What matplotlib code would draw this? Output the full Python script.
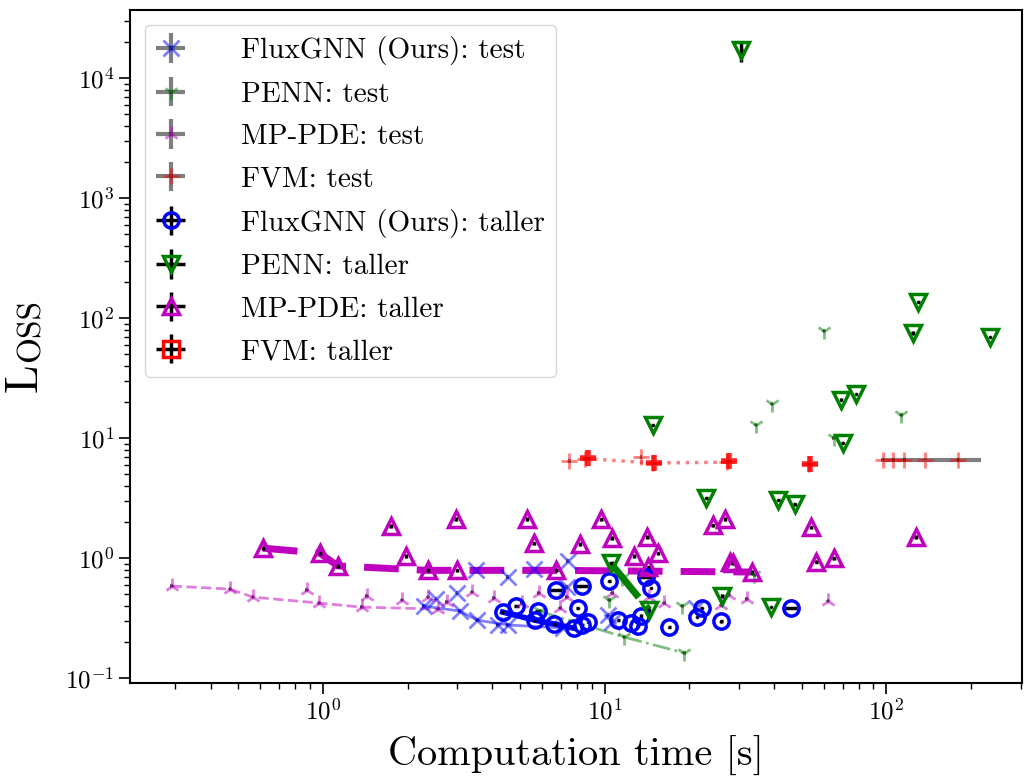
import numpy as np
import matplotlib
matplotlib.use('Agg')
import matplotlib.pyplot as plt

plt.rcParams['font.family'] = 'cmr10'
plt.rcParams['mathtext.fontset'] = 'cm'
plt.rcParams['axes.unicode_minus'] = False
plt.rcParams['axes.formatter.use_mathtext'] = True

# ---------------- data ----------------
# FluxGNN (Ours): test
flux_test_x = [2.28, 2.52, 2.99, 3.06, 3.49, 3.54, 4.17, 4.53, 4.53, 5.61, 7.10, 7.39, 7.33, 10.3, 10.6, 21.1]
flux_test_y = [0.398, 0.455, 0.51, 0.362, 0.794, 0.304, 0.277, 0.694, 0.277, 0.81, 0.262, 0.944, 0.573, 0.335, 0.293, 0.383]
flux_test_xerr = [0.01] * 16
flux_test_yerr = [0.01] * 16
flux_test_line_x = [2.28, 3.06, 3.54, 4.53, 7.10]
flux_test_line_y = [0.398, 0.362, 0.304, 0.277, 0.262]

# PENN: test
penn_test_x = [5.9, 10.4, 11.5, 11.7, 18.9, 19.2, 34.0, 34.5, 39.3, 60.0, 65.0, 113.0]
penn_test_y = [0.36, 0.447, 0.68, 0.22, 0.398, 0.162, 0.72, 12.8, 19.2, 78.0, 10.0, 15.5]
penn_test_xerr = [0.01] * 12
penn_test_yerr = [0.02] * 12
penn_test_line_x = [5.9, 11.7, 19.2]
penn_test_line_y = [0.36, 0.22, 0.162]

# MP-PDE: test
mp_test_x = [0.291, 0.468, 0.565, 0.877, 0.968, 1.375, 1.43, 1.91, 2.36, 2.56, 2.75, 3.38,
             4.04, 5.08, 5.83, 6.97, 7.33, 10.67, 14.4, 16.3, 26.0, 27.7, 31.9, 62.2]
mp_test_y = [0.584, 0.552, 0.473, 0.541, 0.422, 0.39, 0.482, 0.447, 0.473, 0.376, 0.43, 0.52,
             0.464, 0.422, 0.51, 0.383, 0.473, 0.51, 0.473, 0.422, 0.406, 0.49, 0.455, 0.438]
mp_test_xerr = [0.01] * 24
mp_test_yerr = [0.02] * 24
mp_test_line_x = [0.291, 0.468, 0.565, 0.968, 1.375, 2.56]
mp_test_line_y = [0.584, 0.552, 0.473, 0.422, 0.39, 0.376]

# FVM: test  (relative lower / upper x errors)
fvm_test_x = [7.5, 8.5, 13.5, 14.8, 27.3, 53.0, 97.0, 106.0, 116.0, 137.0, 180.0]
fvm_test_y = [6.43, 6.75, 6.9, 6.2, 6.3, 6.1, 6.6, 6.6, 6.6, 6.6, 6.6]
fvm_test_xerr_lo = [0.01, 0.01, 0.01, 0.01, 0.01, 0.01, 0.01, 0.01, 0.01, 0.29, 0.01]
fvm_test_xerr_hi = [0.01, 0.01, 0.01, 0.01, 0.01, 0.01, 0.01, 0.01, 0.01, 0.58, 0.01]
fvm_test_yerr = [0.01] * 11
fvm_test_line_x = [8.5, 14.8, 27.3]
fvm_test_line_y = [6.75, 6.2, 6.3]

# FluxGNN (Ours): taller
flux_tall_x = [4.35, 4.87, 5.79, 5.65, 6.64, 6.71, 8.3, 8.02, 7.76, 8.30, 8.77, 10.4,
               11.2, 12.4, 13.1, 13.5, 14.0, 14.6, 17.0, 21.3, 22.1, 26.0, 46.0]
flux_tall_y = [0.355, 0.398, 0.362, 0.304, 0.282, 0.541, 0.584, 0.383, 0.261, 0.277, 0.293, 0.643,
               0.304, 0.287, 0.271, 0.329, 0.694, 0.562, 0.266, 0.322, 0.383, 0.298, 0.383]
flux_tall_xerr = [0.01, 0.02, 0.02, 0.01, 0.01, 0.05, 0.05, 0.01, 0.01, 0.01, 0.01, 0.01,
                  0.01, 0.01, 0.01, 0.01, 0.05, 0.01, 0.01, 0.01, 0.01, 0.01, 0.05]
flux_tall_yerr = [0.01, 0.02, 0.02, 0.01, 0.01, 0.01, 0.01, 0.02, 0.01, 0.01, 0.01, 0.02,
                  0.01, 0.01, 0.01, 0.03, 0.01, 0.02, 0.01, 0.02, 0.02, 0.03, 0.01]
flux_tall_line_x = [4.35, 5.65, 6.64, 7.76]
flux_tall_line_y = [0.355, 0.304, 0.282, 0.261]

# PENN: taller
penn_tall_x = [10.5, 14.4, 14.8, 23.0, 26.2, 30.6, 39.0, 41.4, 47.3, 69.0, 70.0, 78.0, 124.0, 130.0, 233.0]
penn_tall_y = [0.91, 0.368, 12.8, 3.16, 0.482, 17100.0, 0.39, 3.05, 2.82, 20.8, 9.1, 23.3, 75.0, 136.0, 69.5]
penn_tall_xerr = [0.01] * 15
penn_tall_yerr = [0.02, 0.03, 0.02, 0.02, 0.04, 0.20, 0.02, 0.02, 0.03, 0.03, 0.02, 0.02, 0.04, 0.02, 0.02]
penn_tall_line_x = [10.5, 14.4]
penn_tall_line_y = [0.91, 0.368]

# MP-PDE: taller
mp_tall_x = [0.613, 0.976, 1.13, 1.74, 1.97, 2.36, 2.99, 2.96, 5.3, 5.6, 6.75, 8.2, 9.75, 10.6,
             12.7, 14.2, 14.3, 15.5, 24.2, 26.8, 27.9, 28.5, 33.4, 54.0, 56.5, 65.0, 127.0]
mp_tall_y = [1.21, 1.10, 0.86, 1.85, 1.04, 0.79, 0.79, 2.12, 2.12, 1.33, 0.79, 1.31, 2.11, 1.47,
             1.04, 1.5, 0.84, 1.1, 1.88, 2.12, 0.92, 0.91, 0.765, 1.81, 0.93, 1.0, 1.5]
mp_tall_xerr = [0.01] * 27
mp_tall_yerr = [0.03] * 27
mp_tall_line_x = [0.613, 0.976, 1.13, 2.36, 2.99, 6.75, 33.4]
mp_tall_line_y = [1.21, 1.10, 0.86, 0.79, 0.79, 0.79, 0.765]

# FVM: taller
fvm_tall_x = [8.7, 15.0, 27.6, 53.5]
fvm_tall_y = [6.8, 6.15, 6.4, 6.1]
fvm_tall_xerr = [0.02] * 4
fvm_tall_yerr = [0.02] * 4

# ---------------- plot ----------------
W, H = 1026, 780
fig = plt.figure(figsize=(W / 100, H / 100), dpi=100)
ax = fig.add_axes([130 / W, 1 - 683 / H, (1022 - 130) / W, (683 - 10) / H])
ax.set_xscale('log')
ax.set_yscale('log')


def eb(x, y, xr, yr, **kw):
    x = np.asarray(x, float)
    y = np.asarray(y, float)
    xr = np.asarray(xr, float)
    return ax.errorbar(x, y, xerr=xr * x, yerr=np.asarray(yr) * y,
                       linestyle='none', capsize=0, **kw)


test_kw = dict(alpha=0.5, ecolor='k', elinewidth=3)
tall_kw = dict(mfc='none', mew=2.5, ms=11, ecolor='k', elinewidth=2.5)

h1 = eb(flux_test_x, flux_test_y, flux_test_xerr, flux_test_yerr, marker='x', color='b', ms=11, mew=2, **test_kw)
h2 = eb(penn_test_x, penn_test_y, penn_test_xerr, penn_test_yerr, marker='1', color='g', ms=11, mew=2, **test_kw)
h3 = eb(mp_test_x, mp_test_y, mp_test_xerr, mp_test_yerr, marker='2', color='m', ms=11, mew=2, **test_kw)
h4 = eb(fvm_test_x, fvm_test_y, [fvm_test_xerr_lo, fvm_test_xerr_hi], fvm_test_yerr,
        marker='+', color='r', ms=12, mew=2, **test_kw)

ax.plot(flux_test_line_x, flux_test_line_y, '-', color='b', lw=2, alpha=0.5)
ax.plot(penn_test_line_x, penn_test_line_y, '-.', color='g', lw=2, alpha=0.5)
ax.plot(mp_test_line_x, mp_test_line_y, '--', color='m', lw=2, alpha=0.5)
ax.plot(fvm_test_line_x, fvm_test_line_y, ':', color='r', lw=2.5, alpha=0.5)

ax.plot(mp_tall_line_x, mp_tall_line_y, '--', color='m', lw=5, dashes=(5, 2.6))
ax.plot(penn_tall_line_x, penn_tall_line_y, '-.', color='g', lw=5)
ax.plot(flux_tall_line_x, flux_tall_line_y, '-', color='b', lw=4)

h5 = eb(flux_tall_x, flux_tall_y, flux_tall_xerr, flux_tall_yerr, marker='o', mec='b', **tall_kw)
h6 = eb(penn_tall_x, penn_tall_y, penn_tall_xerr, penn_tall_yerr, marker='v', mec='g', **tall_kw)
h7 = eb(mp_tall_x, mp_tall_y, mp_tall_xerr, mp_tall_yerr, marker='^', mec='m', **tall_kw)
eb(fvm_tall_x, fvm_tall_y, fvm_tall_xerr, fvm_tall_yerr, marker='+', color='r', ms=12, mew=4,
   alpha=0.85, ecolor='k', elinewidth=2)
# legend proxy for FVM taller (square marker as in the reference legend)
h8 = ax.errorbar([np.nan], [np.nan], xerr=[np.nan], yerr=[np.nan], marker='s', mfc='none',
                 mec='r', mew=2.5, ms=11, ecolor='k', elinewidth=2.5, linestyle='none', capsize=0)

ax.set_xlim(0.207, 303)
ax.set_ylim(0.091, 36900)

ax.tick_params(which='major', length=8, width=1.2, labelsize=18)
ax.tick_params(which='minor', length=4.5, width=1)
for s in ax.spines.values():
    s.set_linewidth(1.5)

labels = ['FluxGNN (Ours): test', 'PENN: test', 'MP-PDE: test', 'FVM: test',
          'FluxGNN (Ours): taller', 'PENN: taller', 'MP-PDE: taller', 'FVM: taller']
ax.legend([h1, h2, h3, h4, h5, h6, h7, h8], labels, loc='upper left', fontsize=21,
          handlelength=1.0, handletextpad=1.9, labelspacing=0.55, borderpad=0.4)

ax.set_xlabel('Computation time [s]', fontsize=29, labelpad=8)

# small-caps style y label "Loss"
fig.canvas.draw()
tL = fig.text(46 / W, 1 - 392 / H, 'L', fontsize=33, rotation=90, ha='right', va='bottom')
fig.canvas.draw()
bb = tL.get_window_extent()
fig.text(46 / W, (bb.y1 + 1) / H, 'OSS', fontsize=24, rotation=90, ha='right', va='bottom')

fig.savefig('out.png', dpi=100)
